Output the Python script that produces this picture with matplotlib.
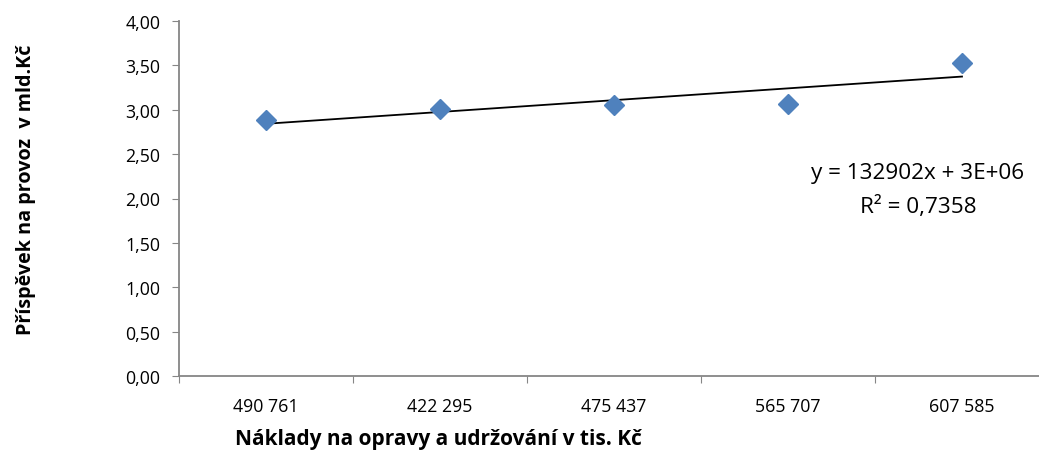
import numpy as np
import matplotlib
matplotlib.use("Agg")
import matplotlib.pyplot as plt

categories = ["490 761", "422 295", "475 437", "565 707", "607 585"]
values = [2.89, 3.01, 3.05, 3.06, 3.53]
y_ticks = [0.0, 0.5, 1.0, 1.5, 2.0, 2.5, 3.0, 3.5, 4.0]
y_tick_labels = ["0,00", "0,50", "1,00", "1,50", "2,00", "2,50", "3,00", "3,50", "4,00"]
equation_text = "y = 132902x + 3E+06"
r2_text = "R² = 0,7358"

plt.rcParams['font.family'] = ['Open Sans', 'DejaVu Sans']

W, H = 1039, 456
fig = plt.figure(figsize=(W / 100, H / 100), dpi=100)
left, right, top, bottom = 179, 1049, 22, 377
ax = fig.add_axes([left / W, 1 - bottom / H, (right - left) / W, (bottom - top) / H])

x = np.arange(1, len(values) + 1)
ax.plot(x, values, linestyle='none', marker='D', markersize=10,
        color='#4F81BD', markeredgecolor='#4F81BD', zorder=3, clip_on=False)

coef = np.polyfit(x, values, 1)
xf = np.array([x[0], x[-1]])
ax.plot(xf, np.polyval(coef, xf), color='black', lw=1.3, zorder=2)

ax.set_xlim(0.5, len(values) + 0.5)
ax.set_ylim(0, 4)
ax.set_yticks(y_ticks)
ax.set_yticklabels(y_tick_labels, fontsize=12.8)
ax.set_xticks(np.arange(0.5, len(values) + 1, 1.0))
ax.set_xticklabels([])
ax.set_xticks(x, minor=True)
ax.set_xticklabels(categories, minor=True, fontsize=12.8)
ax.tick_params(axis='x', which='minor', length=0, pad=15)
ax.tick_params(axis='x', which='major', length=5, color='#868686', direction='out')
ax.tick_params(axis='y', length=5, color='#868686', direction='out', pad=8.5)

for s in ['top', 'right']:
    ax.spines[s].set_visible(False)
for s in ['left', 'bottom']:
    ax.spines[s].set_color('#868686')
    ax.spines[s].set_linewidth(1.3)

fig.text(26 / W, 1 - 190 / H, "Příspěvek na provoz  v mld.Kč", rotation=90,
         ha='center', va='center', fontsize=14.2, fontweight='bold')
fig.text(438 / W, 1 - 440 / H, "Náklady na opravy a udržování v tis. Kč",
         ha='center', va='center', fontsize=15, fontweight='bold')
fig.text(918 / W, 1 - 174 / H, equation_text, ha='center', va='center', fontsize=16.2)
fig.text(918 / W, 1 - 207 / H, r2_text, ha='center', va='center', fontsize=16.2)

fig.savefig("out.png", dpi=100)
